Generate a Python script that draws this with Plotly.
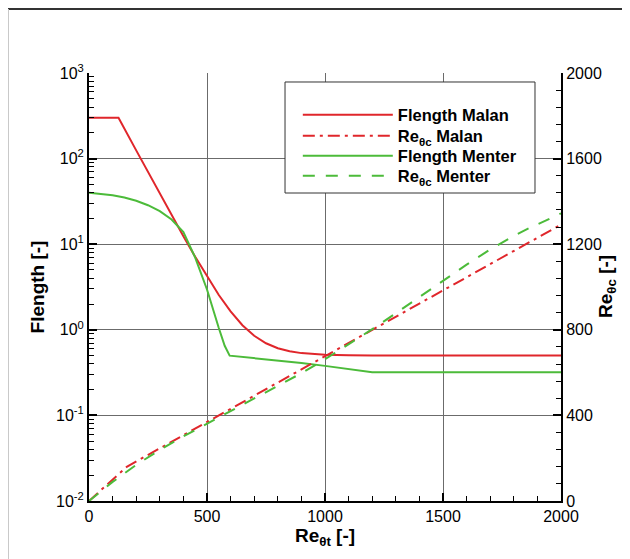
import plotly.graph_objects as go

# ---- data ----
re_malan_f = [0, 125, 200, 300, 400, 450, 500, 550, 600, 650, 700, 750, 800, 850, 900, 1000, 1100, 1200, 2000]
flength_malan = [300, 300, 124.7, 38.9, 12.4, 7.12, 4.18, 2.55, 1.64, 1.13, 0.852, 0.696, 0.609, 0.561, 0.534, 0.510, 0.503, 0.501, 0.5]

re_menter_f = [0, 50, 100, 150, 200, 250, 300, 350, 400, 450, 500, 550, 575, 596, 700, 800, 900, 1000, 1100, 1200, 2000]
flength_menter = [39.82, 38.89, 37.30, 35.05, 32.13, 28.55, 24.31, 19.41, 13.84, 6.97, 2.96, 1.05, 0.65, 0.499,
                  0.469, 0.439, 0.409, 0.379, 0.349, 0.319, 0.319]

re_malan_c = [0, 160, 2000]
rec_malan = [0, 160, 1291.5]

re_menter_c = [0, 100, 200, 300, 400, 500, 600, 700, 800, 900, 1000, 1100, 1200, 1300, 1400, 1500, 1600, 1700, 1800, 1870, 1900, 2000]
rec_menter = [0, 89.2, 169.0, 238.9, 302.1, 361.2, 418.6, 476.2, 535.3, 597.2, 662.3, 730.9, 802.8, 877.4, 953.6,
              1029.9, 1104.5, 1175.2, 1239.0, 1278.1, 1292.4, 1344.2]

log_ticks = [0.01, 0.1, 1, 10, 100, 1000]
log_ticktext = ["10<sup>-2</sup>", "10<sup>-1</sup>", "10<sup>0</sup>", "10<sup>1</sup>", "10<sup>2</sup>", "10<sup>3</sup>"]

RED = "#e0262b"
GREEN = "#4cbb3a"
FONT = "Liberation Sans, Arial, Helvetica, sans-serif"

fig = go.Figure()
fig.add_trace(go.Scatter(x=re_malan_f, y=flength_malan, mode="lines", name="Flength Malan",
                         legend="legend", line=dict(color=RED, width=2)))
fig.add_trace(go.Scatter(x=re_malan_c, y=rec_malan, mode="lines", name="Re<sub>θc</sub> Malan",
                         legend="legend2", yaxis="y2", line=dict(color=RED, width=2, dash="12px,5px,3px,5px")))
fig.add_trace(go.Scatter(x=re_menter_f, y=flength_menter, mode="lines", name="Flength Menter",
                         legend="legend3", line=dict(color=GREEN, width=2)))
fig.add_trace(go.Scatter(x=re_menter_c, y=rec_menter, mode="lines", name="Re<sub>θc</sub> Menter",
                         legend="legend4", yaxis="y2", line=dict(color=GREEN, width=2, dash="12px,11px")))


def leg(y):
    return dict(x=0.4424, y=y, xanchor="left", yanchor="middle",
                bgcolor="rgba(0,0,0,0)", borderwidth=0,
                font=dict(family=FONT, size=16.5, color="black", weight="bold"),
                itemwidth=90)


fig.update_layout(
    width=622, height=551,
    margin=dict(l=81, r=69, t=65, b=58, autoexpand=False),
    paper_bgcolor="white", plot_bgcolor="white",
    font=dict(family=FONT, size=15, color="black"),
    showlegend=True,
    legend=leg(0.902), legend2=leg(0.853), legend3=leg(0.806), legend4=leg(0.759),
    xaxis=dict(range=[0, 2000], tickvals=[0, 500, 1000, 1500, 2000], automargin=False,
               ticks="inside", ticklen=8, tickwidth=2, tickcolor="black",
               minor=dict(dtick=100, ticks="inside", ticklen=5, tickwidth=1, tickcolor="black", showgrid=False),
               showline=True, linecolor="black", linewidth=2, mirror=False,
               showgrid=True, gridcolor="#6b6b6b", gridwidth=1, zeroline=False,
               tickfont=dict(size=16),
               title=dict(text="<b>Re<sub>θt</sub> [-]</b>", font=dict(size=19), standoff=2)),
    yaxis=dict(type="log", range=[-2, 3], tickmode="array", tickvals=log_ticks, ticktext=log_ticktext,
               automargin=False,
               ticks="inside", ticklen=8, tickwidth=2, tickcolor="black",
               minor=dict(dtick="D1", ticks="inside", ticklen=5,
                          tickwidth=1, tickcolor="black", showgrid=False),
               showline=True, linecolor="black", linewidth=2, mirror=False,
               showgrid=True, gridcolor="#6b6b6b", gridwidth=1, zeroline=False,
               tickfont=dict(size=16),
               title=dict(text="<b>Flength [-]</b>", font=dict(size=19), standoff=6)),
    yaxis2=dict(overlaying="y", side="right", range=[0, 2000], tickvals=[0, 400, 800, 1200, 1600, 2000],
                automargin=False,
                ticks="inside", ticklen=8, tickwidth=2, tickcolor="black",
                minor=dict(dtick=80, ticks="inside", ticklen=5, tickwidth=1, tickcolor="black", showgrid=False),
                showline=True, linecolor="black", linewidth=2,
                showgrid=False, zeroline=False, tickfont=dict(size=16)),
    annotations=[
        dict(text="<b>Re<sub>θc</sub> [-]</b>", xref="paper", yref="paper", x=1.0975, y=0.5,
             textangle=-90, showarrow=False, font=dict(size=19), xanchor="center", yanchor="middle"),
    ],
    shapes=[
        dict(type="rect", xref="paper", yref="paper", x0=0.4153, x1=0.9449, y0=0.7196, y1=0.979,
             line=dict(color="#333333", width=1), fillcolor="white", layer="above"),
        dict(type="line", xref="paper", yref="paper", x0=-0.1716, x1=1.2, y0=1.1495, y1=1.1495,
             line=dict(color="#333333", width=2)),
        dict(type="line", xref="paper", yref="paper", x0=-0.1706, x1=-0.1706, y0=-0.2, y1=1.1495,
             line=dict(color="#c8c8c8", width=1)),
    ],
)

fig.write_html("out.html")
